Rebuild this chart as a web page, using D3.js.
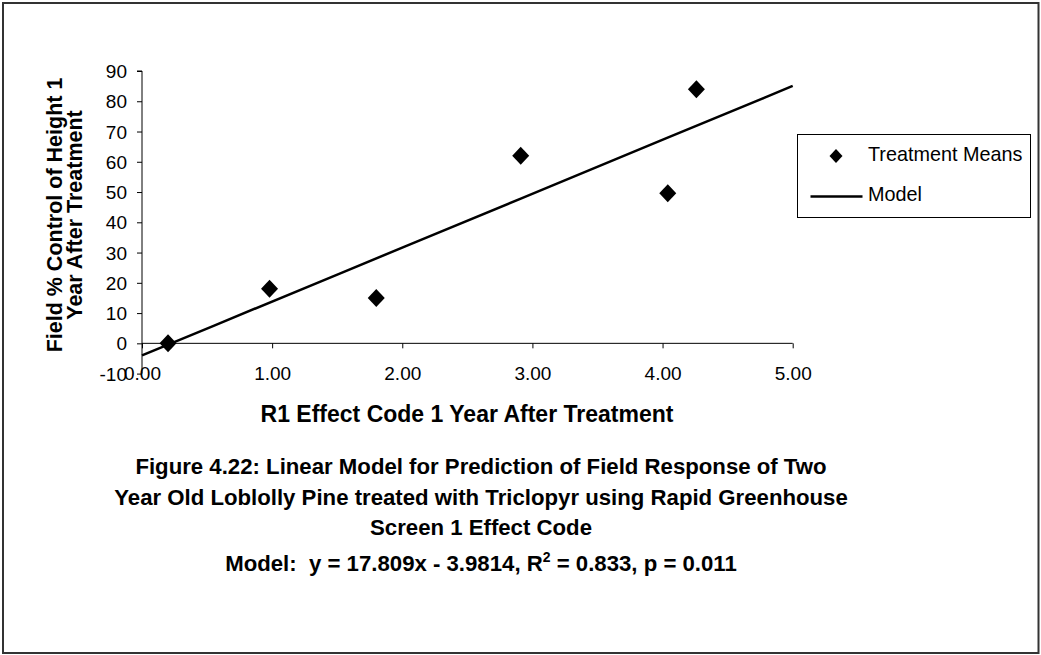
<!DOCTYPE html>
<html>
<head>
<meta charset="utf-8">
<script src="https://cdn.jsdelivr.net/npm/d3@7"></script>
<style>
  html, body { margin: 0; padding: 0; background: #fff; }
  svg { display: block; }
  text { font-family: "Liberation Sans", Arial, sans-serif; fill: #000; }
</style>
</head>
<body>
<svg id="chart" width="1041" height="655"></svg>
<script>
// ---- data ----
const pointX = [0.20, 0.98, 1.80, 2.91, 4.04, 4.26];
const pointY = [0, 18, 15, 62, 49.6, 84];
const modelX = [0, 0.55, 1.51, 2.06, 2.92, 4.03, 4.78, 5.0];
const modelY = [-4.0, 5.8, 22.9, 32.7, 48.0, 67.8, 81.1, 85.1];
const xTicks = [0, 1, 2, 3, 4, 5];
const yTicks = [-10, 0, 10, 20, 30, 40, 50, 60, 70, 80, 90];
const legendLabels = ["Treatment Means", "Model"];
const xTitle = "R1 Effect Code 1 Year After Treatment";
const yTitleLines = ["Field % Control of Height 1", "Year After Treatment"];
const captionLines = [
  "Figure 4.22: Linear Model for Prediction of Field Response of Two",
  "Year Old Loblolly Pine treated with Triclopyr using Rapid Greenhouse",
  "Screen 1 Effect Code"
];

const svg = d3.select("#chart");

// outer frame
svg.append("rect").attr("x", 3).attr("y", 3).attr("width", 1035.5).attr("height", 650)
  .attr("fill", "#fff").attr("stroke", "#333").attr("stroke-width", 2);

const x = d3.scaleLinear().domain([0, 5]).range([142, 792.7]);
const y = d3.scaleLinear().domain([-10, 90]).range([373.6, 71]);

// y axis
const yAxis = d3.axisLeft(y).tickValues(yTicks).tickSize(5).tickPadding(10).tickFormat(d => String(d));
const gy = svg.append("g").attr("transform", `translate(${x(0)},0)`).call(yAxis);
gy.select(".domain").attr("stroke", "#000").attr("d", `M-5,${y(90)}H0V${y(-10)}`);
gy.selectAll(".tick line").attr("stroke", "#000");
gy.selectAll(".tick text").style("font-size", "19px").attr("dy", "0.35em");

// x axis at y=0
const xAxis = d3.axisBottom(x).tickValues(xTicks).tickSize(5).tickFormat(d => d.toFixed(2));
const gx = svg.append("g").attr("transform", `translate(0,${y(0)})`).call(xAxis);
gx.select(".domain").attr("stroke", "#000").attr("d", `M${x(0)},0H${x(5)}`);
gx.selectAll(".tick line").attr("stroke", "#000");
gx.selectAll(".tick text").style("font-size", "19px")
  .attr("y", y(-10) - y(0)).attr("dy", "0.35em");
svg.selectAll(".tick text").attr("fill", "#000");
svg.selectAll("g").attr("font-family", null).attr("font-size", null);

// model line
const line = d3.line().x(d => x(d[0])).y(d => y(d[1]));
svg.append("path").datum(modelX.map((v, i) => [v, modelY[i]]))
  .attr("d", line).attr("fill", "none").attr("stroke", "#000").attr("stroke-width", 2.5);

// points
const diamondPath = (rx, ry) => `M0,${-ry}L${rx},0L0,${ry}L${-rx},0Z`;
svg.append("g").selectAll("path").data(pointX.map((v, i) => [v, pointY[i]])).join("path")
  .attr("d", diamondPath(8.5, 9))
  .attr("transform", d => `translate(${x(d[0])},${y(d[1])})`)
  .attr("fill", "#000");

// axis titles
svg.append("text").attr("x", 467).attr("y", 421.5).attr("text-anchor", "middle")
  .style("font-size", "23px").style("font-weight", "bold").text(xTitle);
yTitleLines.forEach((t, i) => {
  svg.append("text").attr("transform", `translate(${[61.5, 81.5][i]},215) rotate(-90)`)
    .attr("text-anchor", "middle").style("font-size", "21.5px").style("font-weight", "bold").text(t);
});

// legend
const lg = svg.append("g");
lg.append("rect").attr("x", 797.5).attr("y", 134.5).attr("width", 233).attr("height", 83)
  .attr("fill", "#fff").attr("stroke", "#000").attr("stroke-width", 1);
lg.append("path").attr("d", diamondPath(6.5, 7))
  .attr("transform", "translate(836,156)").attr("fill", "#000");
lg.append("line").attr("x1", 810.5).attr("x2", 862.5).attr("y1", 196.5).attr("y2", 196.5)
  .attr("stroke", "#000").attr("stroke-width", 2.5);
lg.append("text").attr("x", 868).attr("y", 161).style("font-size", "19.8px").text(legendLabels[0]);
lg.append("text").attr("x", 868).attr("y", 201).style("font-size", "19.8px").text(legendLabels[1]);

// caption
const capY = [474, 505, 535];
captionLines.forEach((t, i) => {
  svg.append("text").attr("x", 481).attr("y", capY[i]).attr("text-anchor", "middle")
    .style("font-size", "22.2px").style("font-weight", "bold").text(t);
});
const m = svg.append("text").attr("x", 481).attr("y", 571).attr("text-anchor", "middle")
  .style("font-size", "22.2px").style("font-weight", "bold").style("white-space", "pre");
m.append("tspan").text("Model:\u00a0 y = 17.809x - 3.9814, R");
m.append("tspan").attr("dy", -9).style("font-size", "14px").text("2");
m.append("tspan").attr("dy", 9).text(" = 0.833, p = 0.011");
</script>
</body>
</html>
